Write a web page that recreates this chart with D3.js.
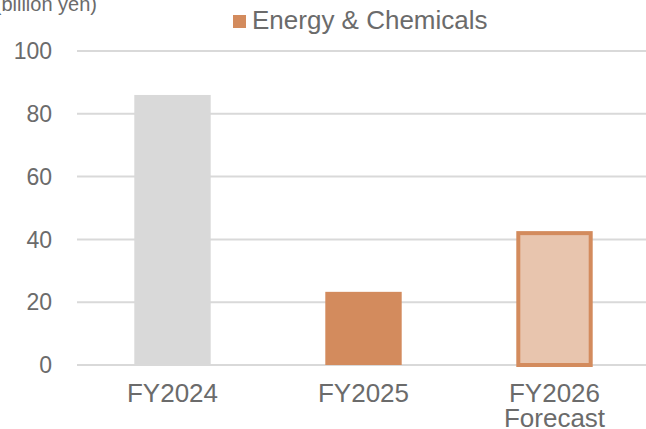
<!doctype html>
<html lang="en">
<head>
<meta charset="utf-8">
<title>Energy & Chemicals</title>
<style>
  body { margin: 0; font-family: Arial, "Liberation Sans", sans-serif; }
  text { fill: #6b6b6b; }
  .grid line { stroke: #d9d9d9; stroke-width: 2; }
</style>
</head>
<body>
<script src="https://d3js.org/d3.v7.min.js"></script>
<script>
const categories = [["FY2024"], ["FY2025"], ["FY2026", "Forecast"]];
const values = [86, 23.3, 42];
const barFills = ["#d9d9d9", "#d38b5d", "#e8c5ae"];
const barStrokes = [null, null, "#d38b5d"];
const yTicks = [0, 20, 40, 60, 80, 100];

const width = 646, height = 429;
const svg = d3.select("body").append("svg")
  .attr("width", width).attr("height", height);

const x = d3.scaleBand()
  .domain(categories.map(c => c.join(" ")))
  .range([77, 650])
  .paddingInner(0.6).paddingOuter(0.3);

const y = d3.scaleLinear().domain([0, 100]).range([365, 51]);

// gridlines
svg.append("g").attr("class", "grid")
  .selectAll("line").data(yTicks).join("line")
  .attr("x1", 77).attr("x2", width)
  .attr("y1", d => y(d)).attr("y2", d => y(d));

// y tick labels
svg.append("g").selectAll("text").data(yTicks).join("text")
  .attr("x", 52).attr("y", d => y(d))
  .attr("dy", "0.36em")
  .attr("text-anchor", "end")
  .style("font-size", "23px")
  .text(d => d);

// bars
const bw = x.bandwidth();
svg.append("g").selectAll("rect").data(values).join("rect")
  .attr("x", (d, i) => x(categories[i].join(" ")) + (barStrokes[i] ? 2 : 0))
  .attr("width", (d, i) => bw - (barStrokes[i] ? 4 : 0))
  .attr("y", d => y(d))
  .attr("height", d => y(0) - y(d))
  .attr("fill", (d, i) => barFills[i])
  .attr("stroke", (d, i) => barStrokes[i] || "none")
  .attr("stroke-width", 4);

// category labels
const cat = svg.append("g").selectAll("text").data(categories).join("text")
  .attr("text-anchor", "middle")
  .style("font-size", "26px");
cat.selectAll("tspan").data(d => d.map(t => ({t, key: d.join(" ")}))).join("tspan")
  .attr("x", d => x(d.key) + bw / 2)
  .attr("y", (d, i) => 402 + i * 25)
  .text(d => d.t);

// unit label
svg.append("text")
  .attr("x", 97).attr("y", 11)
  .attr("text-anchor", "end")
  .style("font-size", "20px")
  .text("(billion yen)");

// legend
svg.append("rect")
  .attr("x", 233).attr("y", 15).attr("width", 13).attr("height", 13)
  .attr("fill", "#d38b5d");
svg.append("text")
  .attr("x", 252).attr("y", 29)
  .style("font-size", "26px")
  .text("Energy & Chemicals");
</script>
</body>
</html>
